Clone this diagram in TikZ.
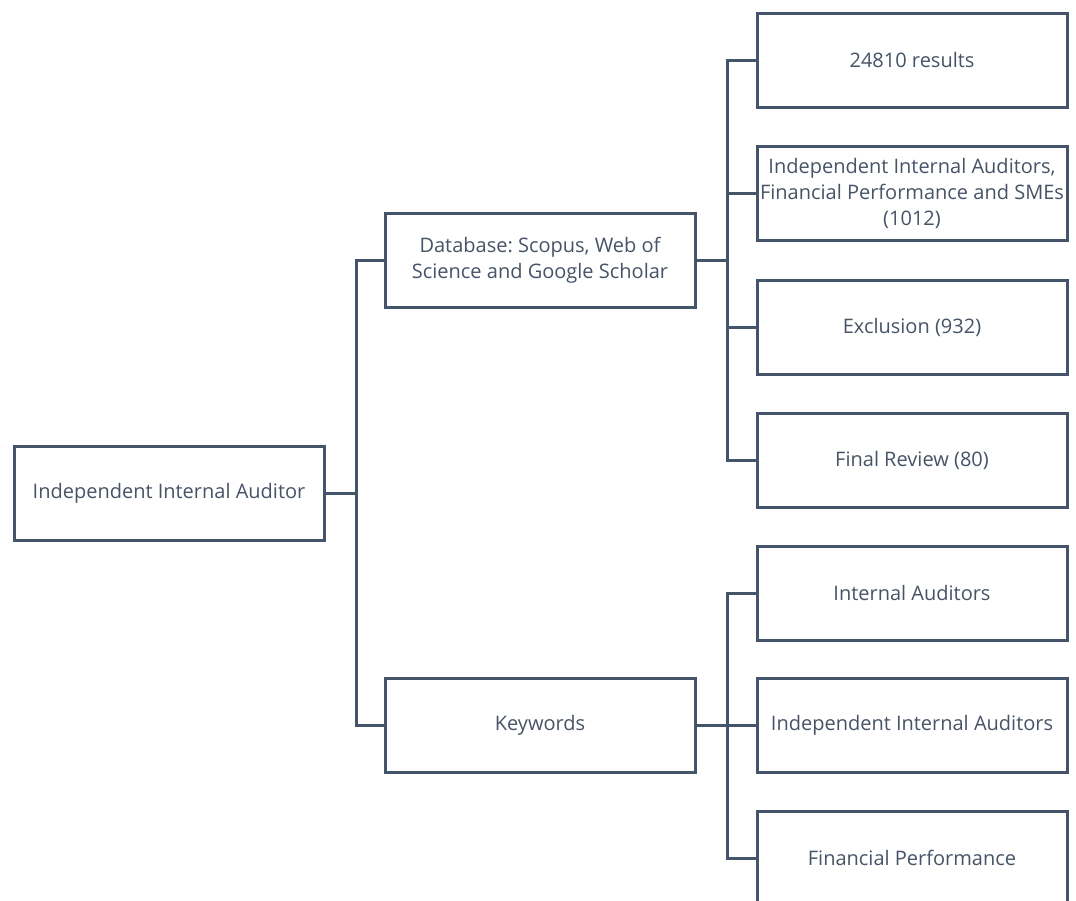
\documentclass[tikz,border=0pt]{standalone}
\usepackage{fontspec}
\setmainfont{Open Sans}
\frenchspacing
\definecolor{slate}{HTML}{44546A}
\definecolor{slatetext}{HTML}{475467}
\tikzset{
  box/.style={draw=slate,line width=3pt,minimum width=310pt,minimum height=94pt,
    inner sep=0pt,align=center,text=slatetext,font=\fontsize{20}{26}\selectfont},
  link/.style={draw=slate,line width=3pt}
}
\begin{document}
\begin{tikzpicture}[x=1pt,y=-1pt]
        \clip (0,0) rectangle (1076,900);
        \fill[white] (0,0) rectangle (1076,900);
        %% Root
        \node[box] (root) at (169,493) {Independent Internal Auditor};
        %% Second level
        \node[box] (db) at (540,260) {Database: Scopus, Web of\\Science and Google Scholar};
        \node[box] (kw) at (540,725) {Keywords};
        %% Database branch
        \node[box] (res) at (912,60) {24810 results};
        \node[box] (iia) at (912,193) {Independent Internal Auditors,\\Financial Performance and SMEs\\(1012)};
        \node[box] (excl) at (912,327) {Exclusion (932)};
        \node[box] (final) at (912,460) {Final Review (80)};
        %% Keywords branch
        \node[box] (ia) at (912,593) {Internal Auditors};
        \node[box] (indep) at (912,725) {Independent Internal Auditors};
        \node[box] (fp) at (912,858) {Financial Performance};
        %% Connectors
        \draw[link] (root.east) -- ++(31,0) |- (db.west);
        \draw[link] (root.east) -- ++(31,0) |- (kw.west);
        \foreach \n in {res,iia,excl,final}
            \draw[link] (db.east) -- ++(31,0) |- (\n.west);
        \foreach \n in {ia,indep,fp}
            \draw[link] (kw.east) -- ++(31,0) |- (\n.west);
    \end{tikzpicture}
\end{document}
